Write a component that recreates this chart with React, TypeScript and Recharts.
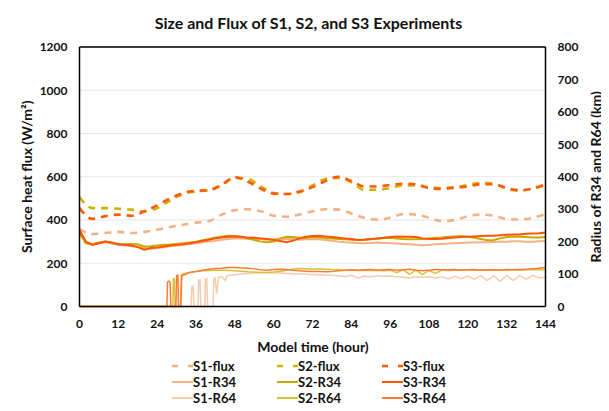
import React from 'react';
import { LineChart, Line, XAxis, YAxis, CartesianGrid, ReferenceLine } from 'recharts';

const FLUX_T = [0, 4, 8, 12, 16, 20, 24, 28, 32, 36, 40, 44, 48, 52, 56, 60, 64, 68, 72, 76, 80, 84, 88, 92, 96, 100, 104, 108, 112, 116, 120, 124, 128, 132, 136, 140, 144];
const S1_FLUX = [358, 335, 340, 345, 340, 345, 355, 368, 378, 388, 395, 425, 445, 450, 440, 420, 415, 425, 440, 450, 448, 430, 410, 402, 410, 428, 425, 410, 395, 400, 418, 425, 420, 405, 402, 410, 428];
const S2_FLUX = [505, 455, 455, 452, 448, 440, 455, 490, 520, 532, 538, 560, 595, 590, 555, 525, 520, 528, 560, 590, 595, 575, 540, 540, 548, 560, 560, 550, 548, 552, 562, 572, 568, 545, 535, 545, 562];
const S3_FLUX = [455, 405, 418, 425, 420, 440, 468, 500, 525, 535, 538, 565, 598, 578, 545, 522, 520, 532, 552, 580, 600, 580, 555, 555, 562, 568, 565, 548, 543, 550, 555, 565, 565, 548, 538, 545, 565];

const R34_T = [0, 2, 4, 6, 8, 10, 12, 14, 16, 18, 20, 22, 24, 26, 28, 30, 32, 34, 36, 38, 40, 42, 44, 46, 48, 50, 52, 54, 56, 58, 60, 62, 64, 66, 68, 70, 72, 74, 76, 78, 80, 82, 84, 86, 88, 90, 92, 94, 96, 98, 100, 102, 104, 106, 108, 110, 112, 114, 116, 118, 120, 122, 124, 126, 128, 130, 132, 134, 136, 138, 140, 142, 144];
const S1_R34 = [230, 198, 192, 195, 198, 195, 190, 188, 186, 185, 180, 178, 180, 183, 186, 188, 190, 192, 195, 198, 200, 203, 206, 208, 210, 210, 209, 208, 207, 206, 207, 208, 209, 208, 206, 207, 208, 207, 205, 203, 200, 198, 197, 196, 195, 196, 197, 196, 195, 194, 193, 192, 190, 189, 190, 192, 193, 194, 195, 196, 197, 197, 198, 198, 199, 200, 200, 201, 201, 200, 200, 201, 202];
const S2_R34 = [225, 195, 192, 197, 200, 195, 193, 192, 193, 192, 185, 186, 188, 190, 191, 193, 195, 197, 200, 204, 208, 213, 216, 218, 217, 214, 210, 205, 200, 198, 200, 210, 215, 214, 212, 212, 214, 213, 211, 210, 208, 207, 206, 205, 206, 207, 209, 211, 212, 210, 208, 207, 207, 208, 210, 212, 213, 215, 216, 217, 215, 212, 208, 204, 205, 210, 214, 216, 215, 214, 213, 213, 214];
const S3_R34 = [235, 200, 190, 195, 200, 197, 192, 190, 188, 183, 175, 180, 182, 185, 188, 190, 192, 195, 198, 202, 206, 210, 213, 215, 216, 215, 212, 212, 210, 208, 205, 202, 198, 203, 210, 215, 217, 218, 216, 214, 212, 210, 208, 205, 206, 208, 210, 212, 214, 216, 215, 215, 214, 210, 208, 208, 209, 211, 213, 214, 215, 216, 217, 218, 218, 220, 221, 222, 222, 224, 225, 226, 228];

const S1_R64_T = [0, 34.5, 34.7, 35.1, 35.4, 36.6, 36.8, 37.2, 37.5, 38.7, 38.9, 39.3, 39.6, 41.3, 41.5, 41.9, 42.4, 43, 44, 45, 45.5, 46, 48, 50, 52, 54, 56, 58, 60, 62, 64, 66, 68, 70, 72, 74, 76, 78, 80, 82, 84, 86, 88, 90, 92, 94, 96, 98, 100, 102, 104, 106, 108, 110, 112, 114, 116, 118, 120, 122, 124, 126, 128, 130, 132, 134, 136, 138, 140, 142, 144];
const S1_R64 = [0, 0, 60, 62, 0, 0, 80, 82, 0, 0, 84, 86, 0, 0, 86, 88, 40, 90, 92, 80, 94, 96, 98, 100, 102, 103, 104, 104, 103, 103, 102, 101, 100, 100, 99, 98, 97, 96, 95, 92, 96, 88, 94, 92, 95, 93, 94, 92, 90, 88, 92, 90, 92, 88, 92, 85, 93, 86, 94, 84, 95, 80, 95, 78, 96, 80, 95, 84, 96, 88, 90];
const S2_R64_T = [0, 28.8, 29.0, 29.3, 29.5, 31.2, 31.5, 32, 33, 34, 36, 38, 40, 42, 44, 46, 48, 50, 52, 54, 56, 58, 60, 62, 64, 66, 68, 70, 72, 74, 76, 78, 80, 82, 84, 86, 88, 90, 92, 94, 96, 98, 100, 102, 104, 106, 108, 110, 112, 114, 116, 118, 120, 122, 124, 126, 128, 130, 132, 134, 136, 138, 140, 142, 144];
const S2_R64 = [0, 0, 85, 85, 0, 0, 98, 100, 103, 105, 108, 110, 111, 112, 112, 111, 110, 109, 107, 106, 105, 105, 106, 108, 112, 116, 117, 116, 115, 116, 115, 114, 113, 112, 112, 111, 112, 111, 112, 110, 112, 104, 113, 100, 112, 98, 111, 102, 112, 111, 112, 113, 113, 112, 113, 112, 112, 113, 112, 113, 112, 113, 113, 113, 113];
const S3_R64_T = [0, 27.0, 27.2, 27.6, 28.0, 28.2, 29.8, 30.0, 30.4, 30.6, 31.3, 31.6, 33, 34, 36, 38, 40, 42, 44, 46, 48, 50, 52, 54, 56, 58, 60, 62, 64, 66, 68, 70, 72, 74, 76, 78, 80, 82, 84, 86, 88, 90, 92, 94, 96, 98, 100, 102, 104, 106, 108, 110, 112, 114, 116, 118, 120, 122, 124, 126, 128, 130, 132, 134, 136, 138, 140, 142, 144];
const S3_R64 = [0, 0, 76, 78, 74, 0, 0, 95, 97, 0, 0, 95, 100, 105, 108, 112, 115, 117, 118, 120, 120, 119, 118, 116, 113, 112, 114, 115, 114, 112, 110, 109, 108, 108, 107, 108, 110, 112, 113, 112, 113, 114, 112, 113, 114, 112, 113, 115, 112, 110, 112, 114, 113, 113, 114, 112, 113, 114, 112, 113, 113, 112, 114, 113, 114, 115, 116, 118, 120];

const X_TICKS = [0, 12, 24, 36, 48, 60, 72, 84, 96, 108, 120, 132, 144];
const LEFT_TICKS = [0, 200, 400, 600, 800, 1000, 1200];
const RIGHT_TICKS = [0, 100, 200, 300, 400, 500, 600, 700, 800];

const mk = (ts: number[], vs: number[]) => ts.map((t, i) => ({ t, v: vs[i] }));

const FONT = 'Lato, "Open Sans", sans-serif';
const DASH = '7 6';

const SERIES = [
  { name: 'S1-flux', axis: 'left', data: mk(FLUX_T, S1_FLUX), color: '#F4B183', dash: DASH, width: 2.6, curve: 'monotone' },
  { name: 'S2-flux', axis: 'left', data: mk(FLUX_T, S2_FLUX), color: '#CDB300', dash: DASH, width: 2.6, curve: 'monotone' },
  { name: 'S3-flux', axis: 'left', data: mk(FLUX_T, S3_FLUX), color: '#FF5A0A', dash: DASH, width: 2.6, curve: 'monotone' },
  { name: 'S1-R34', axis: 'right', data: mk(R34_T, S1_R34), color: '#F4B183', dash: undefined, width: 2, curve: 'linear' },
  { name: 'S2-R34', axis: 'right', data: mk(R34_T, S2_R34), color: '#C9A900', dash: undefined, width: 2, curve: 'linear' },
  { name: 'S3-R34', axis: 'right', data: mk(R34_T, S3_R34), color: '#FF5500', dash: undefined, width: 2, curve: 'linear' },
  { name: 'S1-R64', axis: 'right', data: mk(S1_R64_T, S1_R64), color: '#F8CBAD', dash: undefined, width: 1.5, curve: 'linear' },
  { name: 'S2-R64', axis: 'right', data: mk(S2_R64_T, S2_R64), color: '#D6C23C', dash: undefined, width: 1.5, curve: 'linear' },
  { name: 'S3-R64', axis: 'right', data: mk(S3_R64_T, S3_R64), color: '#FF7A33', dash: undefined, width: 1.5, curve: 'linear' },
];

const DRAW_ORDER = [6, 3, 0, 7, 4, 1, 8, 5, 2];

function LegendBlock() {
  return (
    <div style={{ position: 'absolute', left: 0, top: 358, width: 609, height: 50, fontFamily: FONT }}>
      {SERIES.map((s, i) => {
        const col = i % 3;
        const row = Math.floor(i / 3);
        const left = [172, 277, 382][col];
        const top = row * 16;
        return (
          <div key={s.name} style={{ position: 'absolute', left, top, height: 16, display: 'flex', alignItems: 'center' }}>
            <svg width={21} height={16} style={{ display: 'block' }}>
              <line x1={0} y1={8} x2={21} y2={8} stroke={s.color} strokeWidth={s.dash ? 2.6 : 2} strokeDasharray={s.dash ? '6 10' : undefined} />
            </svg>
            <span style={{ fontSize: 13, fontWeight: 700, color: '#111', lineHeight: '16px' }}>{s.name}</span>
          </div>
        );
      })}
    </div>
  );
}

export default function App() {
  const tickStyle = { fontSize: 12, fontWeight: 700, fill: '#111', fontFamily: FONT };
  return (
    <div style={{ margin: -8, width: 609, height: 411, position: 'relative', background: '#fff' }}>
      <div style={{ position: 'absolute', left: 5, top: 6, width: 599, height: 402, border: '1px solid #d9d9d9', boxSizing: 'border-box' }} />
      <div style={{ position: 'absolute', left: 0, top: 13, width: 617, textAlign: 'center', fontFamily: FONT, fontWeight: 700, fontSize: 16, color: '#111' }}>
        Size and Flux of S1, S2, and S3 Experiments
      </div>
      <div style={{ position: 'absolute', left: 0, top: 0 }}>
        <LineChart width={609} height={411} margin={{ top: 47, right: 4, bottom: 74.5, left: 4 }}>
          <CartesianGrid yAxisId="left" vertical={false} stroke="#e6e6e6" strokeWidth={1} />
          <XAxis
            type="number"
            dataKey="t"
            domain={[0, 144]}
            ticks={X_TICKS}
            allowDuplicatedCategory={false}
            height={30}
            axisLine={{ stroke: '#000', strokeWidth: 1.5 }}
            tickLine={false}
            tickSize={0}
            tickMargin={13}
            tick={tickStyle}
            interval={0}
          />
          <YAxis
            yAxisId="left"
            orientation="left"
            domain={[0, 1200]}
            ticks={LEFT_TICKS}
            width={75.5}
            axisLine={{ stroke: '#000', strokeWidth: 1.5 }}
            tickLine={false}
            tickSize={0}
            tickMargin={12}
            tick={tickStyle}
            interval={0}
            label={{ value: 'Surface heat flux (W/m²)', angle: -90, position: 'insideLeft', offset: 23, style: { fontSize: 14, fontWeight: 700, fill: '#111', fontFamily: FONT, textAnchor: 'middle' } }}
          />
          <YAxis
            yAxisId="right"
            orientation="right"
            domain={[0, 800]}
            ticks={RIGHT_TICKS}
            width={59.5}
            axisLine={{ stroke: '#000', strokeWidth: 1.5 }}
            tickLine={false}
            tickSize={0}
            tickMargin={12}
            tick={tickStyle}
            interval={0}
            label={{ value: 'Radius of R34 and R64 (km)', angle: -90, position: 'insideRight', offset: 9, style: { fontSize: 14, fontWeight: 700, fill: '#111', fontFamily: FONT, textAnchor: 'middle' } }}
          />
          <ReferenceLine yAxisId="left" y={1200} stroke="#000" strokeWidth={1.5} />
          {DRAW_ORDER.map((idx) => {
            const s = SERIES[idx];
            return (
              <Line
                key={s.name}
                yAxisId={s.axis}
                data={s.data}
                dataKey="v"
                name={s.name}
                type={s.curve as any}
                stroke={s.color}
                strokeWidth={s.width}
                strokeDasharray={s.dash}
                dot={false}
                activeDot={false}
                isAnimationActive={false}
              />
            );
          })}
        </LineChart>
      </div>
      <div style={{ position: 'absolute', left: 0, top: 338, width: 626, textAlign: 'center', fontFamily: FONT, fontWeight: 700, fontSize: 14, color: '#111' }}>
        Model time (hour)
      </div>
      <LegendBlock />
    </div>
  );
}
